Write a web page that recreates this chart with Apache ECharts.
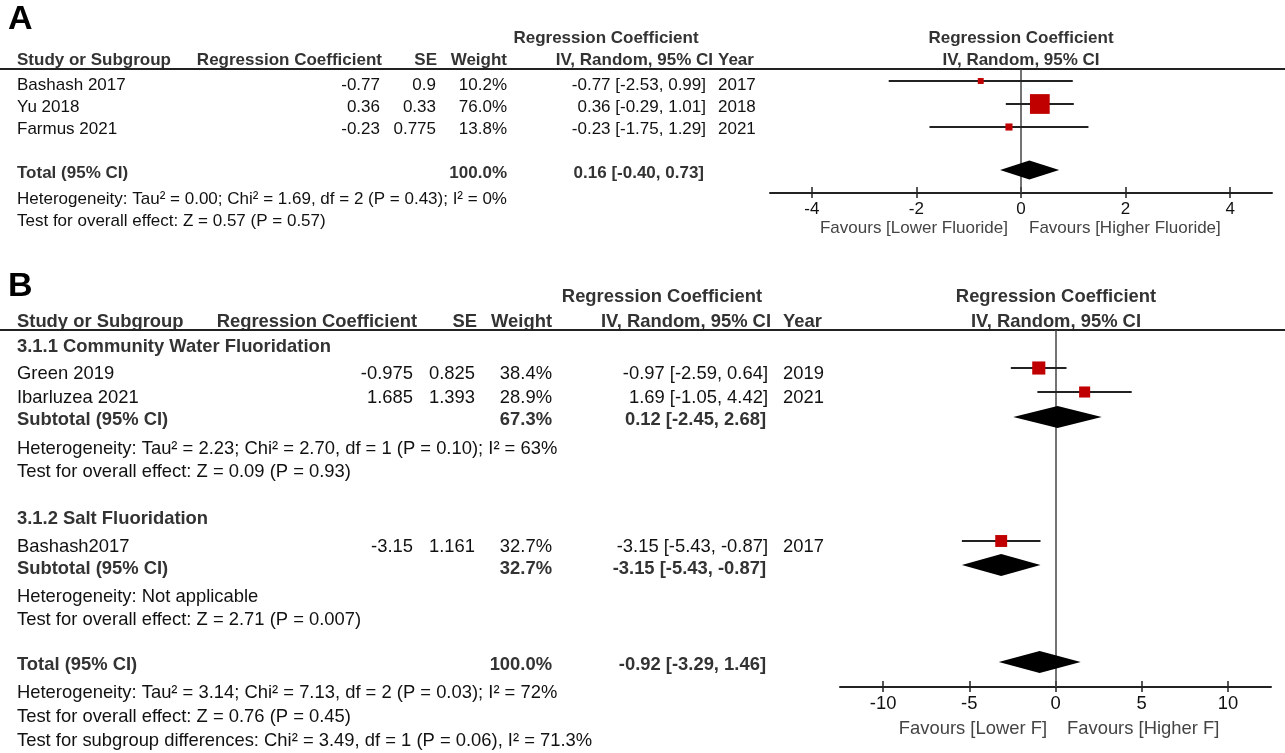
<!DOCTYPE html>
<html>
<head>
<meta charset="utf-8">
<script src="https://cdn.jsdelivr.net/npm/echarts@6/dist/echarts.min.js"></script>
<style>
html,body{margin:0;padding:0;background:#fff;}
#chart{width:1285px;height:753px;}
</style>
</head>
<body>
<div id="chart"></div>
<script>
// ===================== DATA =====================
// Panel A
const studiesA = ['Bashash 2017', 'Yu 2018', 'Farmus 2021'];
const coefA = [-0.77, 0.36, -0.23];
const seA = [0.9, 0.33, 0.775];
const weightA = [10.2, 76.0, 13.8];
const estA = [-0.77, 0.36, -0.23];
const loA = [-2.53, -0.29, -1.75];
const hiA = [0.99, 1.01, 1.29];
const yearA = [2017, 2018, 2021];
const totalWeightA = 100.0;
const totalA = [0.16, -0.40, 0.73]; // est, lo, hi
const hetA = 'Heterogeneity: Tau² = 0.00; Chi² = 1.69, df = 2 (P = 0.43); I² = 0%';
const testA = 'Test for overall effect: Z = 0.57 (P = 0.57)';
const ticksA = [-4, -2, 0, 2, 4];
const favA = ['Favours [Lower Fluoride]', 'Favours [Higher Fluoride]'];

// Panel B
const subgroupsB = ['3.1.1 Community Water Fluoridation', '3.1.2 Salt Fluoridation'];
const studiesB = ['Green 2019', 'Ibarluzea 2021', 'Bashash2017'];
const groupOfB = [0, 0, 1];
const coefB = [-0.975, 1.685, -3.15];
const seB = [0.825, 1.393, 1.161];
const weightB = [38.4, 28.9, 32.7];
const estB = [-0.97, 1.69, -3.15];
const loB = [-2.59, -1.05, -5.43];
const hiB = [0.64, 4.42, -0.87];
const yearB = [2019, 2021, 2017];
const subWeightB = [67.3, 32.7];
const subEstB = [0.12, -3.15];
const subLoB = [-2.45, -5.43];
const subHiB = [2.68, -0.87];
const subHetB = ['Heterogeneity: Tau² = 2.23; Chi² = 2.70, df = 1 (P = 0.10); I² = 63%', 'Heterogeneity: Not applicable'];
const subTestB = ['Test for overall effect: Z = 0.09 (P = 0.93)', 'Test for overall effect: Z = 2.71 (P = 0.007)'];
const totalWeightB = 100.0;
const totalB = [-0.92, -3.29, 1.46];
const totalHetB = 'Heterogeneity: Tau² = 3.14; Chi² = 7.13, df = 2 (P = 0.03); I² = 72%';
const totalTestB = 'Test for overall effect: Z = 0.76 (P = 0.45)';
const subDiffB = 'Test for subgroup differences: Chi² = 3.49, df = 1 (P = 0.06), I² = 71.3%';
const ticksB = [-10, -5, 0, 5, 10];
const favB = ['Favours [Lower F]', 'Favours [Higher F]'];

const headerTop = 'Regression Coefficient';
const headerCols = ['Study or Subgroup', 'Regression Coefficient', 'SE', 'Weight', 'IV, Random, 95% CI', 'Year'];
const headerPlot = 'IV, Random, 95% CI';
const totalLabel = 'Total (95% CI)';
const subtotalLabel = 'Subtotal (95% CI)';

// ===================== LAYOUT =====================
const FONT = "'Liberation Sans', Arial, Helvetica, sans-serif";
const RED = '#c00000';
const TEXT_DY = 1.5;
const LA = {
  fs: 17, gridLeft: 770, gridRight: 1272, top: 69, axisY: 193, xMin: -4.8, xMax: 4.8,
  markY: [81, 104, 127], totalMarkY: 170, diamondH: 19,
  textY: [84, 106, 128], totalTextY: 172, hetY: 198, testY: 220, favY: 227,
  h1Y: 37, h2Y: 59, letterY: 18,
  xName: 17, xCoef: 380, xCoefH: 382, xSE: 436, xSEH: 437, xW: 507, xCI: 706, xCIH: 713, xCIBold: 704, xYear: 718,
  h1Center: 606, plotCenter: 1021, favL: 1008, favR: 1029
};
const LB = {
  fs: 18.4, gridLeft: 840, gridRight: 1271, top: 330, axisY: 687, xMin: -12.5, xMax: 12.5,
  markY: [368, 392, 541], subMarkY: [417, 565], totalMarkY: 662, diamondH: 22,
  textY: [372, 396, 545], subHeadY: [345, 517], subTextY: [418, 567], subHetY: [447, 595], subTestY: [470, 618],
  totalTextY: 663, hetY: 691, testY: 715, diffY: 739, favY: 727,
  h1Y: 295, h2Y: 320, letterY: 285,
  xName: 17, xCoef: 413, xCoefH: 417, xSE: 475, xSEH: 477, xW: 552, xCI: 768, xCIH: 771, xCIBold: 766, xYear: 783,
  h1Center: 662, plotCenter: 1056, favL: 1047, favR: 1067
};

// ===================== HELPERS =====================
const f2 = v => v.toFixed(2);
const ciText = (e, l, h) => `${f2(e)} [${f2(l)}, ${f2(h)}]`;
const pct = w => w.toFixed(1) + '%';
const squareSize = w => 1.47 * Math.pow(w, 0.6);

const graphics = [];
function txt(x, y, text, fs, opt) {
  opt = opt || {};
  graphics.push({
    type: 'text', x: x, y: y + TEXT_DY, silent: true,
    style: {
      text: String(text), fontSize: opt.size || fs, fontFamily: FONT,
      fontWeight: opt.bold ? 'bold' : 'normal',
      fill: opt.color || (opt.bold ? '#333' : '#111'),
      textAlign: opt.align || 'left', verticalAlign: 'middle', textVerticalAlign: 'middle'
    }
  });
}
function hline(y) {
  graphics.push({ type: 'line', silent: true, shape: { x1: 0, y1: y, x2: 1285, y2: y }, style: { stroke: '#222', lineWidth: 2 } });
}
function headers(L) {
  const fs = L.fs, B = { bold: true };
  txt(8, L.letterY, L === LA ? 'A' : 'B', 34, { bold: true, color: '#000', size: 34 });
  txt(L.h1Center, L.h1Y, headerTop, fs, { bold: true, align: 'center' });
  txt(L.plotCenter, L.h1Y, headerTop, fs, { bold: true, align: 'center' });
  txt(L.xName, L.h2Y, headerCols[0], fs, B);
  txt(L.xCoefH, L.h2Y, headerCols[1], fs, { bold: true, align: 'right' });
  txt(L.xSEH, L.h2Y, headerCols[2], fs, { bold: true, align: 'right' });
  txt(L.xW, L.h2Y, headerCols[3], fs, { bold: true, align: 'right' });
  txt(L.xCIH, L.h2Y, headerCols[4], fs, { bold: true, align: 'right' });
  txt(L.xYear, L.h2Y, headerCols[5], fs, B);
  txt(L.plotCenter, L.h2Y, headerPlot, fs, { bold: true, align: 'center' });
  hline(L.top);
}
function studyRow(L, y, name, coef, se, w, e, l, h, yr) {
  const fs = L.fs;
  txt(L.xName, y, name, fs);
  txt(L.xCoef, y, String(coef), fs, { align: 'right' });
  txt(L.xSE, y, String(se), fs, { align: 'right' });
  txt(L.xW, y, pct(w), fs, { align: 'right' });
  txt(L.xCI, y, ciText(e, l, h), fs, { align: 'right' });
  txt(L.xYear, y, String(yr), fs);
}
function sumRow(L, y, label, w, e, l, h) {
  const fs = L.fs;
  txt(L.xName, y, label, fs, { bold: true });
  txt(L.xW, y, pct(w), fs, { bold: true, align: 'right' });
  txt(L.xCIBold, y, ciText(e, l, h), fs, { bold: true, align: 'right' });
}

// ===================== TEXT: PANEL A =====================
headers(LA);
studiesA.forEach((s, i) => studyRow(LA, LA.textY[i], s, coefA[i], seA[i], weightA[i], estA[i], loA[i], hiA[i], yearA[i]));
sumRow(LA, LA.totalTextY, totalLabel, totalWeightA, totalA[0], totalA[1], totalA[2]);
txt(LA.xName, LA.hetY, hetA, LA.fs);
txt(LA.xName, LA.testY, testA, LA.fs);
txt(LA.favL, LA.favY, favA[0], LA.fs, { align: 'right', color: '#444' });
txt(LA.favR, LA.favY, favA[1], LA.fs, { color: '#444' });

// ===================== TEXT: PANEL B =====================
headers(LB);
subgroupsB.forEach((g, gi) => {
  txt(LB.xName, LB.subHeadY[gi], g, LB.fs, { bold: true });
  studiesB.forEach((s, i) => {
    if (groupOfB[i] === gi) studyRow(LB, LB.textY[i], s, coefB[i], seB[i], weightB[i], estB[i], loB[i], hiB[i], yearB[i]);
  });
  sumRow(LB, LB.subTextY[gi], subtotalLabel, subWeightB[gi], subEstB[gi], subLoB[gi], subHiB[gi]);
  txt(LB.xName, LB.subHetY[gi], subHetB[gi], LB.fs);
  txt(LB.xName, LB.subTestY[gi], subTestB[gi], LB.fs);
});
sumRow(LB, LB.totalTextY, totalLabel, totalWeightB, totalB[0], totalB[1], totalB[2]);
txt(LB.xName, LB.hetY, totalHetB, LB.fs);
txt(LB.xName, LB.testY, totalTestB, LB.fs);
txt(LB.xName, LB.diffY, subDiffB, LB.fs);
txt(LB.favL, LB.favY, favB[0], LB.fs, { align: 'right', color: '#444' });
txt(LB.favR, LB.favY, favB[1], LB.fs, { color: '#444' });

// ===================== SERIES DATA =====================
const studyDataA = studiesA.map((s, i) => [estA[i], loA[i], hiA[i], LA.markY[i] - LA.top, squareSize(weightA[i])]);
const sumDataA = [[totalA[0], totalA[1], totalA[2], LA.totalMarkY - LA.top, LA.diamondH]];
const studyDataB = studiesB.map((s, i) => [estB[i], loB[i], hiB[i], LB.markY[i] - LB.top, squareSize(weightB[i])]);
const sumDataB = subEstB.map((e, i) => [e, subLoB[i], subHiB[i], LB.subMarkY[i] - LB.top, LB.diamondH])
  .concat([[totalB[0], totalB[1], totalB[2], LB.totalMarkY - LB.top, LB.diamondH]]);

function renderStudy(params, api) {
  const e = api.value(0), l = api.value(1), h = api.value(2), y = api.value(3), s = api.value(4);
  const pl = api.coord([l, y]), ph = api.coord([h, y]), pe = api.coord([e, y]);
  return {
    type: 'group', children: [
      { type: 'line', shape: { x1: pl[0], y1: pl[1], x2: ph[0], y2: ph[1] }, style: { stroke: '#222', lineWidth: 1.8 } },
      { type: 'rect', shape: { x: pe[0] - s / 2, y: pe[1] - s / 2, width: s, height: s }, style: { fill: RED } }
    ]
  };
}
function renderDiamond(params, api) {
  const e = api.value(0), l = api.value(1), h = api.value(2), y = api.value(3), dh = api.value(4);
  const pl = api.coord([l, y]), ph = api.coord([h, y]), pe = api.coord([e, y]);
  return {
    type: 'polygon',
    shape: { points: [[pl[0], pl[1]], [pe[0], pe[1] - dh / 2], [ph[0], ph[1]], [pe[0], pe[1] + dh / 2]] },
    style: { fill: '#000' }
  };
}

function xAxes(L, gi, ticks) {
  const base = { gridIndex: gi, type: 'value', min: L.xMin, max: L.xMax, position: 'bottom', splitLine: { show: false } };
  return [
    Object.assign({}, base, {
      axisLine: { show: true, onZero: false, lineStyle: { color: '#222', width: 2 } },
      axisTick: { show: true, customValues: ticks, length: 5, lineStyle: { color: '#222', width: 1.5 } },
      axisLabel: { show: true, customValues: ticks, fontSize: L.fs, fontFamily: FONT, color: '#111', margin: 8 }
    }),
    Object.assign({}, base, {
      axisLine: { show: false, onZero: false },
      axisTick: { show: true, inside: true, customValues: ticks, length: 6, lineStyle: { color: '#222', width: 1.5 } },
      axisLabel: { show: false }
    })
  ];
}
const yAx = (L, gi) => ({ gridIndex: gi, type: 'value', min: 0, max: L.axisY - L.top, inverse: true, show: false, splitLine: { show: false } });
const zeroLine = (xi, yi) => ({
  type: 'line', xAxisIndex: xi, yAxisIndex: yi, data: [], z: 1, silent: true,
  markLine: { silent: true, symbol: 'none', label: { show: false }, animation: false,
    lineStyle: { color: '#444', width: 1.5, type: 'solid' }, data: [{ xAxis: 0 }] }
});

const chart = echarts.init(document.getElementById('chart'), null, { renderer: 'canvas' });
chart.setOption({
  backgroundColor: '#fff',
  animation: false,
  grid: [
    { left: LA.gridLeft, top: LA.top, width: LA.gridRight - LA.gridLeft, height: LA.axisY - LA.top, containLabel: false },
    { left: LB.gridLeft, top: LB.top, width: LB.gridRight - LB.gridLeft, height: LB.axisY - LB.top, containLabel: false }
  ],
  xAxis: xAxes(LA, 0, ticksA).concat(xAxes(LB, 1, ticksB)),
  yAxis: [yAx(LA, 0), yAx(LB, 1)],
  series: [
    zeroLine(0, 0),
    { type: 'custom', xAxisIndex: 0, yAxisIndex: 0, z: 5, clip: false, silent: true, renderItem: renderStudy, data: studyDataA, encode: { x: [0, 1, 2], y: 3 } },
    { type: 'custom', xAxisIndex: 0, yAxisIndex: 0, z: 5, clip: false, silent: true, renderItem: renderDiamond, data: sumDataA, encode: { x: [0, 1, 2], y: 3 } },
    zeroLine(2, 1),
    { type: 'custom', xAxisIndex: 2, yAxisIndex: 1, z: 5, clip: false, silent: true, renderItem: renderStudy, data: studyDataB, encode: { x: [0, 1, 2], y: 3 } },
    { type: 'custom', xAxisIndex: 2, yAxisIndex: 1, z: 5, clip: false, silent: true, renderItem: renderDiamond, data: sumDataB, encode: { x: [0, 1, 2], y: 3 } }
  ],
  graphic: graphics
});
</script>
</body>
</html>
